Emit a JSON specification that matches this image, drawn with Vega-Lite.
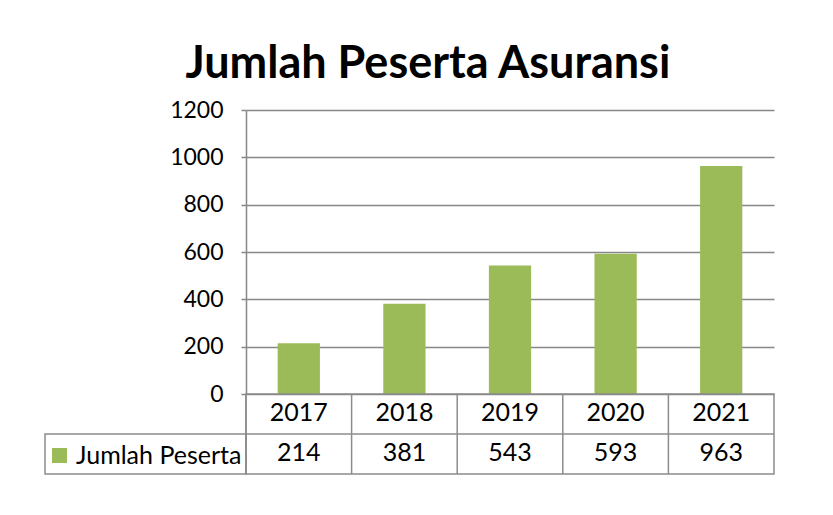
{
  "$schema": "https://vega.github.io/schema/vega-lite/v6.json",
  "background": "white",
  "padding": {"left": 44, "top": 42, "right": 0, "bottom": 0},
  "title": {"text": "Jumlah Peserta Asuransi", "fontSize": 45, "font": "Lato", "fontWeight": "bold", "color": "black", "anchor": "middle", "offset": 12, "dx": 18},
  "config": {"view": {"stroke": null}, "font": "Lato", "concat": {"spacing": 0}},
  "datasets": {
    "d": [
      {"year": "2017", "value": 214},
      {"year": "2018", "value": 381},
      {"year": "2019", "value": 543},
      {"year": "2020", "value": 593},
      {"year": "2021", "value": 963}
    ]
  },
  "columns": 2,
  "spacing": 0,
  "bounds": "flush",
  "concat": [
    {
      "width": 201, "height": 284,
      "data": {"values": [{}]},
      "mark": {"type": "text"},
      "encoding": {"text": {"value": ""}}
    },
    {
      "width": 528, "height": 284,
      "data": {"name": "d"},
      "mark": {"type": "bar"},
      "encoding": {
        "x": {"field": "year", "type": "ordinal", "scale": {"paddingInner": 0.6, "paddingOuter": 0.3}, "axis": null},
        "y": {"field": "value", "type": "quantitative", "scale": {"domain": [0, 1200]},
          "axis": {"values": [0, 200, 400, 600, 800, 1000, 1200], "format": "d", "title": null, "grid": true, "gridColor": "#878787", "gridWidth": 1.5, "domainColor": "#878787", "domainWidth": 1.5, "tickColor": "#878787", "tickWidth": 1.5, "tickSize": 5, "labelFontSize": 23, "labelPadding": 18, "labelColor": "black"}},
        "color": {"datum": "Jumlah Peserta", "type": "nominal", "scale": {"range": ["#9BBB59"]},
          "legend": {"title": null, "orient": "none", "legendX": 2, "legendY": 333, "symbolType": "square", "symbolSize": 225, "symbolStrokeWidth": 0, "labelFontSize": 25, "labelLimit": 400, "labelColor": "black", "labelOffset": 4}}
      }
    },
    {
      "width": 201, "height": 80,
      "data": {"values": [{}]},
      "mark": {"type": "rect", "fill": "white", "stroke": "#8c8c8c", "strokeWidth": 1.5},
      "encoding": {
        "x": {"datum": 0, "type": "quantitative", "scale": {"domain": [0, 1]}, "axis": null},
        "x2": {"datum": 1},
        "y": {"datum": 1, "type": "quantitative", "scale": {"domain": [0, 2], "reverse": true}, "axis": null},
        "y2": {"datum": 2}
      }
    },
    {
      "width": 528, "height": 80,
      "view": {"stroke": "#8c8c8c", "strokeWidth": 1.5},
      "layer": [
        {
          "data": {"name": "d"},
          "mark": {"type": "rule", "color": "#8c8c8c", "strokeWidth": 1.5},
          "encoding": {
            "x": {"field": "year", "type": "ordinal", "bandPosition": 0, "scale": {"paddingInner": 0, "paddingOuter": 0}, "axis": null},
            "y": {"datum": 0, "type": "quantitative", "scale": {"domain": [0, 2], "reverse": true}, "axis": null},
            "y2": {"datum": 2}
          }
        },
        {
          "data": {"values": [{}]},
          "mark": {"type": "rule", "color": "#8c8c8c", "strokeWidth": 1.5},
          "encoding": {"y": {"datum": 1, "type": "quantitative"}}
        },
        {
          "data": {"name": "d"},
          "mark": {"type": "text", "fontSize": 25, "color": "black"},
          "encoding": {
            "x": {"field": "year", "type": "ordinal"},
            "y": {"datum": 0.48, "type": "quantitative"},
            "text": {"field": "year"}
          }
        },
        {
          "data": {"name": "d"},
          "mark": {"type": "text", "fontSize": 25, "color": "black"},
          "encoding": {
            "x": {"field": "year", "type": "ordinal"},
            "y": {"datum": 1.48, "type": "quantitative"},
            "text": {"field": "value", "type": "quantitative"}
          }
        }
      ]
    }
  ]
}
